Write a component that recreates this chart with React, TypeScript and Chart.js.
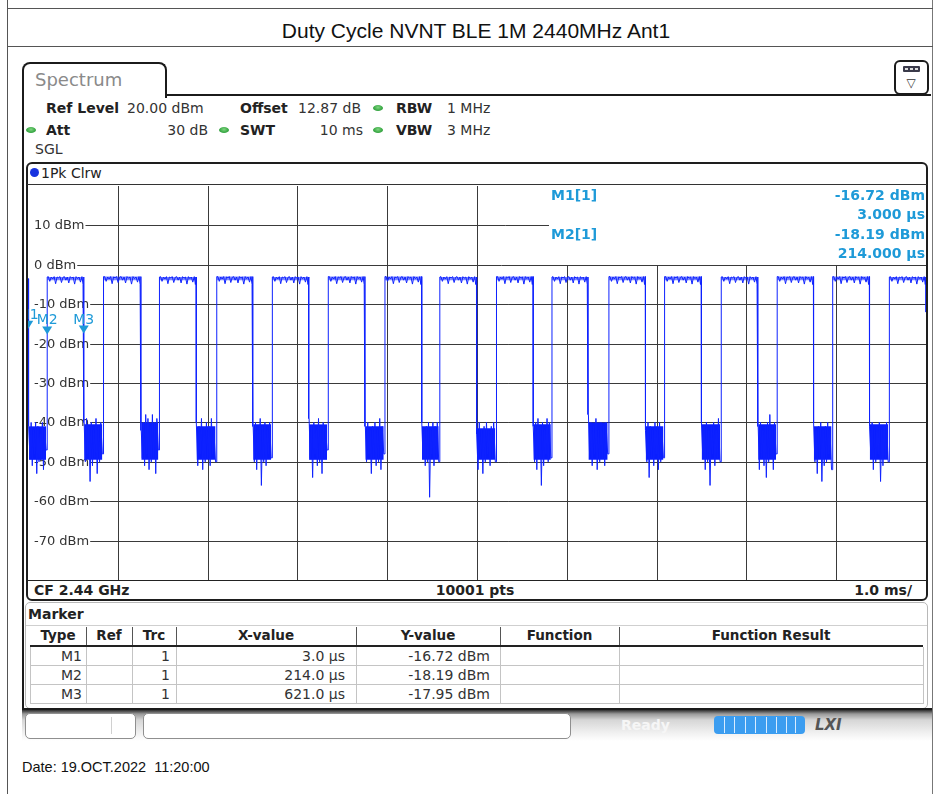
import React, { useEffect, useRef } from "react";
import { Chart, registerables } from "chart.js";

Chart.register(...registerables);

// ---------- data ----------
const xTicksMs = [1, 2, 3, 4, 5, 6, 7, 8, 9];
const yTicksDbm = [10, 0, -10, -20, -30, -40, -50, -60, -70];

const riseMs = [0.214, 0.841, 1.464, 2.102, 2.721, 3.344, 3.975, 4.586, 5.217, 5.835, 6.469, 7.089, 7.72, 8.343, 8.961, 9.592];
const fallMs = [0.621, 1.257, 1.872, 2.503, 3.126, 3.752, 4.383, 4.994, 5.624, 6.236, 6.874, 7.497, 8.127, 8.746, 9.369];
const pulseTopDbm = [-3.1, -3.0, -3.1, -3.0, -3.1, -3.0, -3.0, -3.1, -3.0, -3.1, -3.0, -3.0, -3.1, -3.0, -3.0, -3.1];
const pulseBandBottomDbm = -3.9;

const rippleFrac = [0.03, 0.07, 0.11, 0.15, 0.19, 0.23, 0.27, 0.31, 0.35, 0.39, 0.43, 0.47, 0.51, 0.55, 0.59, 0.63, 0.67, 0.71, 0.75, 0.79, 0.83, 0.87, 0.91, 0.95, 0.98];
const rippleDbm = [-3.0, -4.2, -3.1, -3.6, -3.0, -4.8, -3.1, -3.3, -3.0, -4.5, -3.2, -3.0, -3.9, -3.1, -4.6, -3.0, -3.4, -3.1, -4.9, -3.0, -3.5, -3.1, -4.4, -3.0, -5.0];

const noiseFrac = [0.02, 0.08, 0.14, 0.2, 0.26, 0.32, 0.38, 0.44, 0.5, 0.56, 0.62, 0.68, 0.74, 0.8, 0.86, 0.94];
const gapNoiseDbm = [
  [-41, -49, -40, -51, -42, -48, -40, -53, -41, -50, -43, -49, -40, -52, -42, -47],
  [-40, -50, -39, -48, -41, -55, -40, -51, -42, -49, -39, -53, -41, -50, -40, -48],
  [-42, -49, -40, -51, -38, -48, -39, -52, -41, -50, -38, -49, -40, -53, -39, -47],
  [-40, -51, -41, -48, -39, -52, -42, -50, -40, -49, -41, -51, -39, -48, -42, -50],
  [-41, -50, -40, -52, -42, -49, -39, -56, -41, -50, -40, -51, -42, -48, -40, -49],
  [-39, -49, -41, -54, -40, -48, -42, -51, -39, -50, -41, -53, -40, -49, -42, -47],
  [-41, -50, -40, -48, -42, -53, -41, -49, -40, -51, -42, -50, -39, -52, -41, -48],
  [-40, -49, -42, -51, -41, -50, -40, -59, -42, -48, -40, -51, -41, -49, -40, -50],
  [-43, -52, -40, -49, -42, -53, -41, -50, -40, -48, -42, -51, -41, -49, -40, -50],
  [-41, -50, -40, -52, -39, -49, -41, -56, -40, -51, -42, -48, -39, -50, -40, -49],
  [-38, -49, -40, -51, -41, -48, -39, -52, -42, -50, -40, -49, -41, -51, -40, -48],
  [-42, -50, -40, -54, -41, -49, -42, -51, -40, -48, -41, -52, -40, -50, -42, -49],
  [-40, -49, -41, -52, -40, -50, -42, -56, -41, -48, -40, -51, -42, -49, -39, -50],
  [-41, -52, -40, -49, -42, -51, -41, -54, -40, -50, -38, -49, -41, -52, -40, -48],
  [-40, -50, -42, -53, -41, -49, -40, -55, -42, -51, -41, -50, -40, -48, -42, -52],
  [-41, -49, -40, -52, -42, -50, -41, -48, -40, -55, -42, -51, -41, -49, -40, -50],
];
const noiseCoreTopDbm = [-41, -40.5, -40, -41, -40.5, -40.5, -41, -41, -41.5, -40.5, -40, -41, -40.5, -40.5, -41, -40.5];
const noiseCoreBottomDbm = -49.5;

const traceStartDbm = [-3.5, -16.72];
const traceStartMs = [0, 0.003];
const traceEndDbm = -12;

const markerNames = ["M1", "M2", "M3"];
const markerMs = [0.003, 0.214, 0.621];
const markerDbm = [-16.72, -18.19, -17.95];
const markerXText = ["3.0 µs", "214.0 µs", "621.0 µs"];
const markerYText = ["-16.72 dBm", "-18.19 dBm", "-17.95 dBm"];
const infoTimeText = ["3.000 µs", "214.000 µs"];

// ---------- build datasets from the arrays ----------
function gapStart(i: number) {
  return i === 0 ? 0.006 : fallMs[i - 1];
}
function pulseEnd(i: number) {
  return i < fallMs.length ? fallMs[i] : 10;
}

function buildTrace() {
  const pts: { x: number; y: number }[] = [];
  for (let k = 0; k < traceStartMs.length; k++) pts.push({ x: traceStartMs[k], y: traceStartDbm[k] });
  for (let i = 0; i < riseMs.length; i++) {
    const gs = gapStart(i);
    const ge = riseMs[i];
    const g = gapNoiseDbm[i];
    if (i > 0) pts.push({ x: gs, y: g[0] });
    for (let k = 0; k < noiseFrac.length; k++) pts.push({ x: gs + (ge - gs) * noiseFrac[k], y: g[k] });
    pts.push({ x: ge, y: g[g.length - 1] });
    pts.push({ x: ge, y: pulseTopDbm[i] });
    const pe = pulseEnd(i);
    for (let r = 0; r < rippleFrac.length; r++) pts.push({ x: ge + (pe - ge) * rippleFrac[r], y: rippleDbm[r] });
    pts.push({ x: pe, y: pulseTopDbm[i] });
    if (i >= fallMs.length) pts.push({ x: 10, y: traceEndDbm });
  }
  return pts;
}

function buildNoiseCore() {
  const pts: { x: number; y: number | null }[] = [];
  for (let i = 0; i < riseMs.length; i++) {
    const gs = gapStart(i);
    const ge = riseMs[i];
    const w = ge - gs;
    pts.push({ x: gs + w * noiseFrac[0], y: noiseCoreTopDbm[i] });
    pts.push({ x: gs + w * noiseFrac[noiseFrac.length - 1], y: noiseCoreTopDbm[i] });
    pts.push({ x: ge, y: null });
  }
  return pts;
}

function buildPulseBand() {
  const pts: { x: number; y: number | null }[] = [];
  for (let i = 0; i < riseMs.length; i++) {
    pts.push({ x: riseMs[i], y: pulseTopDbm[i] });
    pts.push({ x: pulseEnd(i), y: pulseTopDbm[i] });
    pts.push({ x: pulseEnd(i), y: null });
  }
  return pts;
}

const DV = '"DejaVu Sans", sans-serif';
const LS = '"Liberation Sans", Arial, sans-serif';
const MARK_BLUE = "#1e9ad8";
const TRACE_BLUE = "rgb(14,34,255)";

const analyzerPlugin = {
  id: "analyzerGrid",
  beforeDatasetsDraw(chart: any) {
    const { ctx, chartArea: a, scales } = chart;
    const xs = scales.x;
    const ys = scales.y;
    ctx.save();
    ctx.strokeStyle = "#3a3a3a";
    ctx.lineWidth = 1;
    for (const t of xTicksMs) {
      const px = Math.round(xs.getPixelForValue(t)) + 0.5;
      ctx.beginPath();
      ctx.moveTo(px, a.top);
      ctx.lineTo(px, a.bottom);
      ctx.stroke();
    }
    ctx.font = `13px ${DV}`;
    ctx.textBaseline = "middle";
    ctx.textAlign = "left";
    const y0 = Math.round(ys.getPixelForValue(0));
    for (const v of yTicksDbm) {
      const py = Math.round(ys.getPixelForValue(v)) + 0.5;
      const label = `${v} dBm`;
      const lx = a.left + 6;
      const w = ctx.measureText(label).width;
      ctx.fillStyle = "#333";
      ctx.fillText(label, lx, py);
      ctx.beginPath();
      ctx.moveTo(lx + w + 1, py);
      ctx.lineTo(a.right, py);
      ctx.stroke();
    }
    const boxLeft = 521;
    ctx.fillStyle = "#ffffff";
    ctx.fillRect(boxLeft, a.top, a.right - boxLeft, y0 - a.top);
    ctx.font = `bold 14px ${DV}`;
    ctx.fillStyle = MARK_BLUE;
    ctx.textBaseline = "middle";
    ctx.textAlign = "left";
    ctx.fillText(`${markerNames[0]}[1]`, boxLeft + 2, a.top + 10);
    ctx.fillText(`${markerNames[1]}[1]`, boxLeft + 2, a.top + 49);
    ctx.textAlign = "right";
    ctx.fillText(markerYText[0], a.right - 1, a.top + 10);
    ctx.fillText(infoTimeText[0], a.right - 1, a.top + 29);
    ctx.fillText(markerYText[1], a.right - 1, a.top + 49);
    ctx.fillText(infoTimeText[1], a.right - 1, a.top + 68);
    ctx.restore();
  },
  afterDatasetsDraw(chart: any) {
    const { ctx, chartArea: a, scales } = chart;
    ctx.save();
    ctx.beginPath();
    ctx.rect(a.left, a.top, a.right - a.left, a.bottom - a.top);
    ctx.clip();
    ctx.fillStyle = MARK_BLUE;
    ctx.font = `14px ${DV}`;
    ctx.textAlign = "center";
    ctx.textBaseline = "alphabetic";
    for (let i = 0; i < markerNames.length; i++) {
      const px = scales.x.getPixelForValue(markerMs[i]);
      const py = scales.y.getPixelForValue(markerDbm[i]) - 2;
      ctx.beginPath();
      ctx.moveTo(px - 5, py - 8);
      ctx.lineTo(px + 5, py - 8);
      ctx.lineTo(px, py);
      ctx.closePath();
      ctx.fill();
      ctx.fillText(markerNames[i], px, py - 10);
    }
    ctx.restore();
  },
};

function SpectrumChart() {
  const ref = useRef<HTMLCanvasElement | null>(null);
  useEffect(() => {
    if (!ref.current) return;
    const chart = new Chart(ref.current, {
      type: "line",
      data: {
        datasets: [
          {
            label: "1Pk Clrw",
            data: buildTrace(),
            borderColor: TRACE_BLUE,
            borderWidth: 1,
            pointRadius: 0,
            tension: 0,
            fill: false,
            order: 0,
          },
          {
            label: "noise core",
            data: buildNoiseCore(),
            borderColor: "rgba(0,0,0,0)",
            borderWidth: 0,
            backgroundColor: "rgb(10,30,255)",
            pointRadius: 0,
            spanGaps: false,
            fill: { target: { value: noiseCoreBottomDbm } },
            order: 1,
          },
          {
            label: "pulse band",
            data: buildPulseBand(),
            borderColor: "rgba(0,0,0,0)",
            borderWidth: 0,
            backgroundColor: "rgba(20,40,255,0.55)",
            pointRadius: 0,
            spanGaps: false,
            fill: { target: { value: pulseBandBottomDbm } },
            order: 2,
          },
        ],
      },
      options: {
        animation: false,
        responsive: false,
        devicePixelRatio: 1,
        layout: { padding: 0 },
        events: [],
        scales: {
          x: { type: "linear", min: 0, max: 10, display: false },
          y: { type: "linear", min: -80, max: 20, display: false },
        },
        plugins: { legend: { display: false }, tooltip: { enabled: false } },
      },
      plugins: [analyzerPlugin],
    } as any);
    return () => chart.destroy();
  }, []);
  return (
    <canvas
      ref={ref}
      width={898}
      height={394}
      style={{ position: "absolute", left: 28, top: 186, width: 898, height: 394 }}
    />
  );
}

type TxtProps = {
  x: number;
  y: number;
  children: React.ReactNode;
  align?: "left" | "right" | "center";
  size?: number;
  bold?: boolean;
  italic?: boolean;
  color?: string;
  family?: string;
};
function Txt({ x, y, children, align = "left", size = 14, bold = false, italic = false, color = "#222", family = DV }: TxtProps) {
  const w = 500;
  const lh = size + 4;
  const left = align === "left" ? x : align === "right" ? x - w : x - w / 2;
  return (
    <div
      style={{
        position: "absolute",
        left,
        top: y - lh / 2,
        width: w,
        lineHeight: `${lh}px`,
        fontSize: size,
        fontFamily: family,
        fontWeight: bold ? "bold" : "normal",
        fontStyle: italic ? "italic" : "normal",
        color,
        textAlign: align,
        whiteSpace: "pre",
      }}
    >
      {children}
    </div>
  );
}

function Box({ l, t, w, h, style }: { l: number; t: number; w: number; h: number; style?: React.CSSProperties }) {
  return <div style={{ position: "absolute", left: l, top: t, width: w, height: h, boxSizing: "border-box", ...style }} />;
}

function Dot({ x, y }: { x: number; y: number }) {
  return (
    <Box
      l={x - 5}
      t={y - 3}
      w={10}
      h={6}
      style={{ borderRadius: "50%", background: "radial-gradient(ellipse at 50% 40%, #7fd47f 0%, #38a844 60%, #2b8a36 100%)" }}
    />
  );
}

const colBounds = [30, 86, 132, 176, 356, 500, 619, 923];
const colHeaders = ["Type", "Ref", "Trc", "X-value", "Y-value", "Function", "Function Result"];
const trcValues = ["1", "1", "1"];

export default function App() {
  const rowsCy = [656, 675, 694];
  return (
    <div style={{ position: "absolute", left: 0, top: 0, width: 936, height: 794, background: "#fff", overflow: "hidden" }}>
      <Box l={7} t={0} w={1} h={794} style={{ background: "#555" }} />
      <Box l={932} t={0} w={1} h={794} style={{ background: "#777" }} />
      <Box l={7} t={8} w={926} h={1} style={{ background: "#555" }} />
      <Box l={7} t={46} w={926} h={1} style={{ background: "#555" }} />
      <Txt x={476} y={30} align="center" size={21} family={LS} color="#111">
        Duty Cycle NVNT BLE 1M 2440MHz Ant1
      </Txt>

      <Box l={22} t={62} w={145} h={36} style={{ borderTop: "2px solid #1b1b1b", borderLeft: "2px solid #1b1b1b", borderRight: "2px solid #1b1b1b", borderRadius: "8px 8px 0 0" }} />
      <Box l={165} t={94} w={766} h={2} style={{ background: "#1b1b1b" }} />
      <Box l={22} t={90} w={2} h={620} style={{ background: "#1b1b1b" }} />
      <Txt x={35} y={80} size={18} color="#8a8a8a">Spectrum</Txt>
      <Box l={894} t={60} w={35} h={35} style={{ border: "2px solid #1b1b1b", borderRadius: 6, background: "#fff" }} />
      <Box l={903} t={66} w={17} h={6} style={{ background: "#3a3a4a", borderRadius: 1 }} />
      <Box l={905} t={68} w={3} h={2} style={{ background: "#ddd" }} />
      <Box l={910} t={68} w={3} h={2} style={{ background: "#ddd" }} />
      <Box l={915} t={68} w={3} h={2} style={{ background: "#ddd" }} />
      <Txt x={911} y={83} align="center" size={12} color="#333">▽</Txt>

      <Txt x={46} y={108} bold>Ref Level</Txt>
      <Txt x={127} y={108} color="#333">20.00 dBm</Txt>
      <Txt x={240} y={108} bold>Offset</Txt>
      <Txt x={298} y={108} color="#333">12.87 dB</Txt>
      <Dot x={378} y={108} />
      <Txt x={396} y={108} bold>RBW</Txt>
      <Txt x={447} y={108} color="#333">1 MHz</Txt>

      <Dot x={31} y={130} />
      <Txt x={46} y={130} bold>Att</Txt>
      <Txt x={208} y={130} align="right" color="#333">30 dB</Txt>
      <Dot x={224} y={130} />
      <Txt x={240} y={130} bold>SWT</Txt>
      <Txt x={363} y={130} align="right" color="#333">10 ms</Txt>
      <Dot x={378} y={130} />
      <Txt x={396} y={130} bold>VBW</Txt>
      <Txt x={447} y={130} color="#333">3 MHz</Txt>

      <Txt x={35} y={149} color="#333">SGL</Txt>

      <Box l={26} t={162} w={902} h={439} style={{ border: "2px solid #1e1e1e", borderRadius: 6 }} />
      <Box l={27} t={184} w={900} h={1} style={{ background: "#333" }} />
      <Box l={30} t={168} w={9} h={9} style={{ borderRadius: "50%", background: "#1733e0" }} />
      <Txt x={41} y={173}>1Pk Clrw</Txt>
      <SpectrumChart />
      <Box l={27} t={580} w={900} h={1} style={{ background: "#222" }} />
      <Txt x={34} y={590} bold>CF 2.44 GHz</Txt>
      <Txt x={475} y={590} align="center" bold>10001 pts</Txt>
      <Txt x={912} y={590} align="right" bold>1.0 ms/</Txt>

      <Box l={25} t={602} w={903} h={107} style={{ border: "1px solid #b8b8b8", borderRadius: 5 }} />
      <Txt x={28} y={614} bold>Marker</Txt>
      <Box l={26} t={625} w={901} h={1} style={{ background: "#cfcfcf" }} />
      {colBounds.slice(1, -1).map((b) => (
        <Box key={"hs" + b} l={b} t={627} w={1} h={18} style={{ background: "#555" }} />
      ))}
      {colHeaders.map((h, i) => (
        <Txt key={"h" + h} x={(colBounds[i] + colBounds[i + 1]) / 2} y={636} align="center" bold size={13.5}>
          {h}
        </Txt>
      ))}
      <Box l={30} t={645} w={893} h={2} style={{ background: "#222" }} />
      {[665, 684, 703].map((t) => (
        <Box key={"rl" + t} l={30} t={t} w={893} h={1} style={{ background: "#c4c4c4" }} />
      ))}
      {colBounds.map((b) => (
        <Box key={"rs" + b} l={b} t={647} w={1} h={57} style={{ background: "#c4c4c4" }} />
      ))}
      {markerNames.map((m, i) => (
        <React.Fragment key={"row" + m}>
          <Txt x={82} y={rowsCy[i]} align="right" color="#333">{m}</Txt>
          <Txt x={170} y={rowsCy[i]} align="right" color="#333">{trcValues[i]}</Txt>
          <Txt x={345} y={rowsCy[i]} align="right" color="#333">{markerXText[i]}</Txt>
          <Txt x={490} y={rowsCy[i]} align="right" color="#333">{markerYText[i]}</Txt>
        </React.Fragment>
      ))}

      <Box l={22} t={708} w={910} h={2} style={{ background: "#1b1b1b" }} />
      <Box
        l={22}
        t={710}
        w={910}
        h={31}
        style={{ background: "linear-gradient(to bottom, #2e2e2e 0px, #9a9a9a 4px, #d6d6d6 10px, #efefef 22px, #ffffff 31px)" }}
      />
      <Box l={25} t={713} w={111} h={26} style={{ background: "#fff", border: "1px solid #8f8f8f", borderRadius: 5 }} />
      <Box l={111} t={717} w={1} h={17} style={{ background: "#d0d0d0" }} />
      <Box l={143} t={713} w={428} h={26} style={{ background: "#fff", border: "1px solid #8f8f8f", borderRadius: 5 }} />
      <Txt x={621} y={725} bold color="#f6f6f6">Ready</Txt>
      <Box l={714} t={716} w={91} h={18} style={{ background: "#3b9df0", borderRadius: 4 }} />
      {[724, 734, 745, 755, 766, 776, 786, 795].map((x) => (
        <Box key={"pb" + x} l={x} t={717} w={1} h={16} style={{ background: "#d8ecff" }} />
      ))}
      <Txt x={815} y={725} bold italic size={15} color="#555">LXI</Txt>

      <Txt x={22} y={767} size={14.5} family={LS} color="#111">
        {"Date: 19.OCT.2022  11:20:00"}
      </Txt>
    </div>
  );
}
